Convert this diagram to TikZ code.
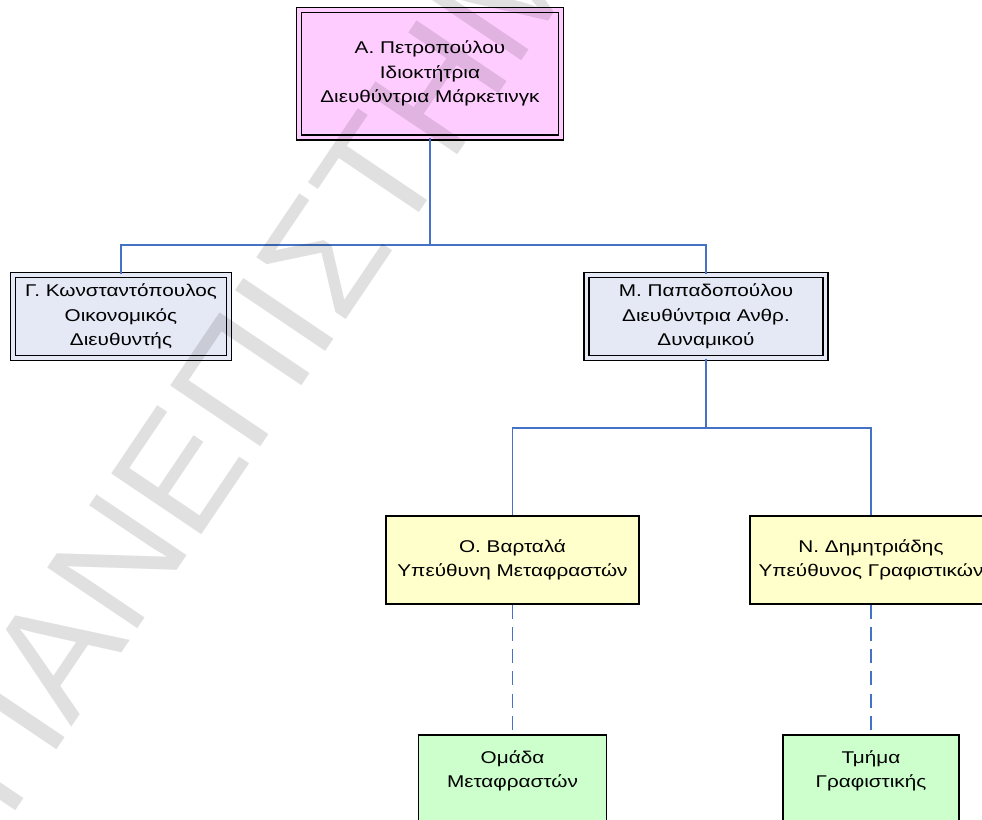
\documentclass[tikz,border=0pt]{standalone}
\usepackage{fontspec}
\setmainfont{Liberation Sans}[FakeStretch=1.22]
\newfontfamily\wmfont{Liberation Sans}
\newcommand{\orgfont}{\fontsize{17}{24.5}\selectfont}
\definecolor{pinkfill}{RGB}{255,204,255}
\definecolor{bluegrey}{RGB}{229,233,245}
\definecolor{yellowfill}{RGB}{255,255,204}
\definecolor{greenfill}{RGB}{204,255,204}
\definecolor{linkblue}{RGB}{68,114,196}
\tikzset{
  basebox/.style={inner sep=0pt, align=center, font=\orgfont, text=black},
  dblbox/.style={basebox, draw=black, line width=1.4pt, double distance=3.4pt},
  onebox/.style={basebox, draw=black, line width=1.6pt},
  link/.style={draw=linkblue, line width=1.6pt},
  dashlink/.style={link, dash pattern=on 14pt off 8.3pt}
}
\begin{document}
\begin{tikzpicture}[x=1pt,y=-1pt]
\useasboundingbox (0,0) rectangle (982,819);
\clip (0,0) rectangle (982,819);
\fill[white] (0,0) rectangle (982,819);

% boxes
\node[dblbox, fill=pinkfill, double=pinkfill, minimum width=262pt, minimum height=127.5pt] (top) at (430,73.7)
  {Α. Πετροπούλου\\Ιδιοκτήτρια\\Διευθύντρια Μάρκετινγκ};
\node[dblbox, fill=bluegrey, double=bluegrey, minimum width=216pt, minimum height=83pt] (fin) at (121,316.5)
  {Γ. Κωνσταντόπουλος\\Οικονομικός\\Διευθυντής};
\node[dblbox, fill=bluegrey, double=bluegrey, minimum width=239pt, minimum height=83pt] (hr) at (706,316.5)
  {Μ. Παπαδοπούλου\\Διευθύντρια Ανθρ.\\Δυναμικού};
\node[onebox, fill=yellowfill, minimum width=253pt, minimum height=88pt] (tr) at (512.5,559.7)
  {Ο. Βαρταλά\\Υπεύθυνη Μεταφραστών};
\node[onebox, fill=yellowfill, minimum width=242pt, minimum height=88pt] (gr) at (871,559.7)
  {Ν. Δημητριάδης\\Υπεύθυνος Γραφιστικών};
\node[onebox, fill=greenfill, minimum width=188pt, minimum height=125pt] (trteam) at (512.5,797.5)
  {Ομάδα\\Μεταφραστών\\\strut\\\strut};
\node[onebox, fill=greenfill, minimum width=176pt, minimum height=125pt] (grteam) at (871,797.5)
  {Τμήμα\\Γραφιστικής\\\strut\\\strut};

% connectors
\coordinate (bus1) at (top.south |- 0,245);
\coordinate (bus2) at (hr.south |- 0,428);
\draw[link] (top.south) -- (bus1) -| (fin.north);
\draw[link] (bus1) -| (hr.north);
\draw[link] (hr.south) -- (bus2) -| (tr.north);
\draw[link] (bus2) -| (gr.north);
\draw[dashlink] (tr.south) -- (trteam.north);
\draw[dashlink] (gr.south) -- (grteam.north);

% watermark
\node[rotate=56, anchor=base west, inner sep=0pt, text=black, text opacity=0.12,
      font=\wmfont\fontsize{158}{158}\selectfont] (wm) at (8,822) {ΠΑΝΕΠΙΣΤΗΜΙΟ};
\end{tikzpicture}
\end{document}
